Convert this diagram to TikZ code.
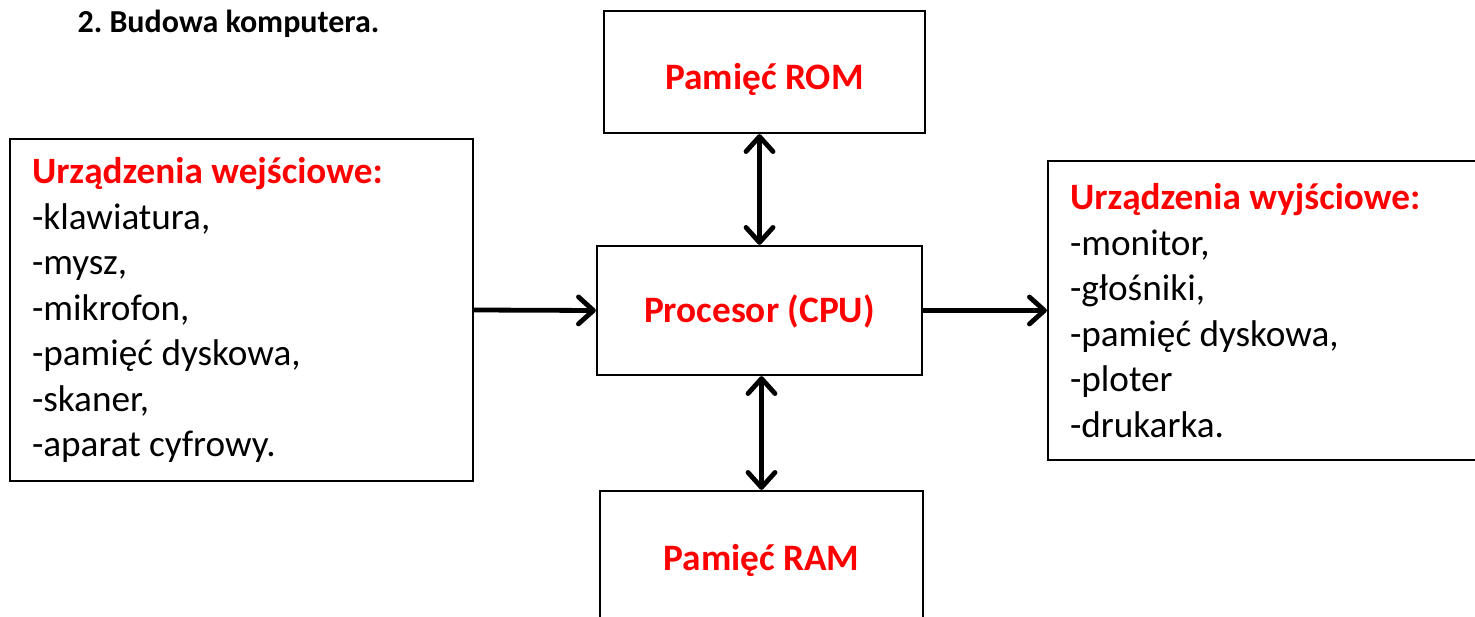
\documentclass[tikz,border=0pt]{standalone}
\usepackage{fontspec}
\setmainfont{Carlito}
\usetikzlibrary{arrows.meta,positioning}

\newcommand{\plainspace}{\spaceskip=0pt\relax\xspaceskip=0pt\relax}
\tikzset{
  box/.style={draw, line width=2.3pt, inner sep=0pt},
  head/.style={font=\bfseries\fontsize{37.3}{45.5}\selectfont, text=red, text depth=0pt},
  list/.style={box, align=left, font=\fontsize{37.2}{45.5}\selectfont},
  link/.style={line width=4.8pt, -{Straight Barb[length=15pt,width=27pt,round]}},
  both/.style={line width=4.8pt, {Straight Barb[length=15pt,width=27pt,round]}-{Straight Barb[length=15pt,width=27pt,round]}},
}
\newcommand{\hd}[1]{\textcolor{red}{\bfseries #1}}

\begin{document}
\begin{tikzpicture}[x=1pt,y=-1pt]

  \useasboundingbox (0,0) rectangle (1475,617);
  \clip (0,0) rectangle (1475,617);

  % title
  \node[anchor=base west, font=\bfseries\fontsize{32}{38}\selectfont] (tytul) at (74,33) {\frenchspacing 2. Budowa komputera.};

  % the boxes
  \node[box, head, text height=36pt, minimum width=321, minimum height=122] (rom) at (764.5,72) {Pamięć ROM};
  \node[box, head, text height=25pt, minimum width=325, minimum height=129] (cpu) at (759.5,310.5) {Procesor (CPU)};
  \node[box, head, text height=26pt, minimum width=323, minimum height=132] (ram) at (761.5,557) {Pamięć RAM};

  \node[list, text width=419, minimum width=463, minimum height=342] (wej) at (241.5,310)
    {\plainspace\hd{Urządzenia wejściowe:}\\-klawiatura,\\-mysz,\\-mikrofon,\\-pamięć dyskowa,\\-skaner,\\-aparat cyfrowy.\\[-4pt]};
  \node[list, text width=396, minimum width=440, minimum height=299] (wyj) at (1268,310.5)
    {\plainspace\hd{Urządzenia wyjściowe:}\\-monitor,\\-głośniki,\\-pamięć dyskowa,\\-ploter\\-drukarka.};

  % arrows
  \draw[link] (wej.east) -- (cpu.west);
  \draw[link] (cpu.east) -- (wyj.west);
  \draw[both] (rom.south -| cpu.north) -- (cpu.north);
  \draw[both] (cpu.south -| ram.north) -- (ram.north);

\end{tikzpicture}
\end{document}
